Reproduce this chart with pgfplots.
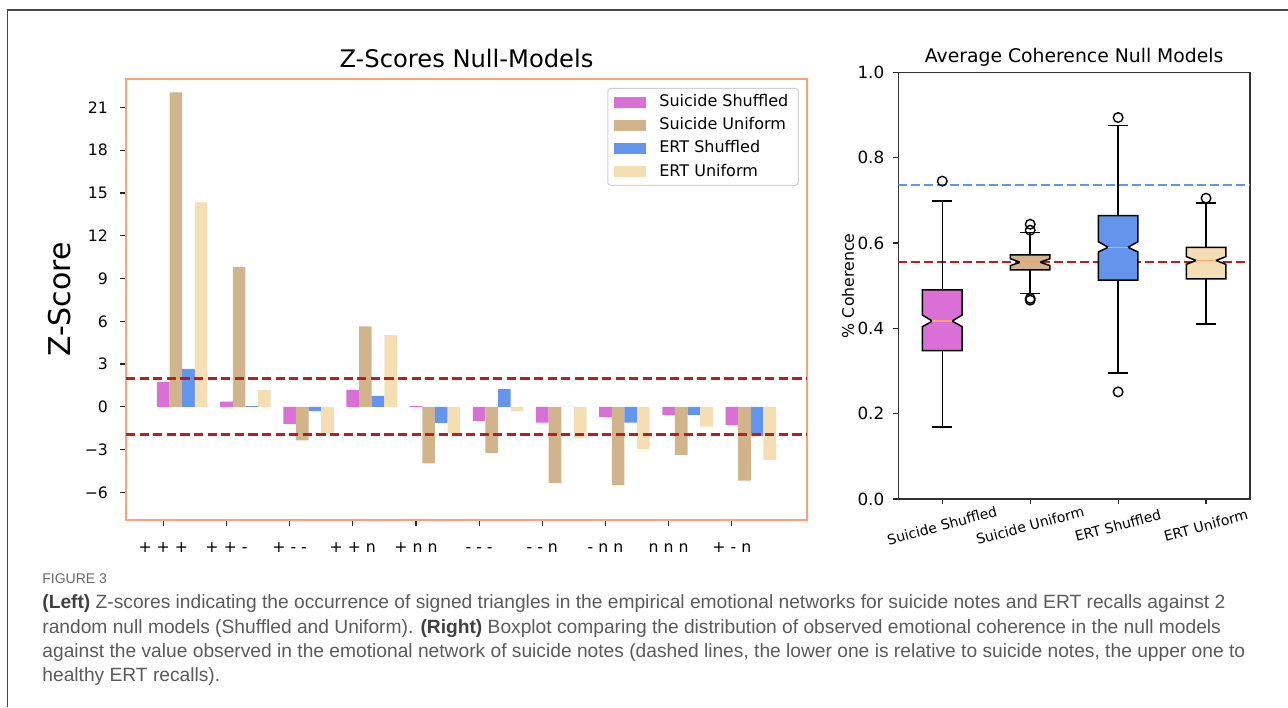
\documentclass[border=0pt]{standalone}
\usepackage{pgfplots}
\pgfplotsset{compat=1.18}
\usepackage{pgfplotstable}
\usepackage{fontspec}
\setmainfont{DejaVu Sans}
\newfontfamily\capfont{Liberation Sans}
\definecolor{orchid}{HTML}{DA70D6}
\definecolor{tanc}{HTML}{D2B48C}
\definecolor{cfblue}{HTML}{6495ED}
\definecolor{wheatc}{HTML}{F5DEB3}
\definecolor{firebrick}{HTML}{B22222}
\definecolor{salmonl}{HTML}{FFA07A}
\definecolor{medc}{HTML}{F8A36B}
\definecolor{capgray}{HTML}{5A5A5A}
\definecolor{capdark}{HTML}{404040}

\pgfplotstableread{
idx ss su es eu
0 1.75 22.07 2.67 14.35
1 0.37 9.81 0.05 1.19
2 -1.19 -2.36 -0.30 -1.85
3 1.19 5.64 0.77 5.03
4 0.05 -3.96 -1.12 -1.85
5 -0.98 -3.25 1.24 -0.30
6 -1.10 -5.36 0.00 -2.22
7 -0.70 -5.50 -1.10 -2.97
8 -0.56 -3.39 -0.56 -1.38
9 -1.26 -5.17 -2.06 -3.72
}\zdata

\begin{document}
\begin{tikzpicture}
\path[use as bounding box] (0,0) rectangle (644pt,-353.5pt);
\draw[black!72, line width=0.6pt] (3.65pt,-353.5pt) -- (3.65pt,-5pt) -- (644pt,-5pt);

% ---------------- Left: Z-scores ----------------
\begin{axis}[
  at={(63pt,-260pt)}, anchor=south west, scale only axis,
  width=340.5pt, height=220.5pt,
  xmin=-0.59, xmax=10.19, ymin=-7.94, ymax=23.0,
  axis line style={draw=salmonl, line width=1pt},
  tick style={black!85, line width=0.6pt}, tick align=outside, major tick length=3pt,
  xtick pos=bottom, ytick pos=left,
  xtick={0,...,9},
  xticklabels={+ + +, + + -, + - -, + + n, + n n, - - -, - - n, - n n, n n n, + - n},
  ytick={-6,-3,0,3,6,9,12,15,18,21},
  yticklabels={−6,−3,0,3,6,9,12,15,18,21},
  ticklabel style={font=\fontsize{7.85}{9}\selectfont},
  xticklabel style={yshift=-3.5pt, text height=0.64em},
  yticklabel style={xshift=-2.5pt},
  every axis title shift=0pt,
  title={Z-Scores Null-Models},
  title style={font=\fontsize{12.1}{14}\selectfont, at={(axis description cs:0.5,1.0476)}, anchor=center},
  ylabel={Z-Score},
  ylabel style={font=\fontsize{15}{18}\selectfont, at={(axis description cs:-0.097,0.5)}, anchor=center},
  legend style={at={(0.988,0.980)}, anchor=north east, draw=black!18, line width=0.5pt,
    rounded corners=1.5pt, fill=white, font=\fontsize{8}{9.6}\selectfont,
    inner xsep=3pt, inner ysep=1.1pt, row sep=0pt,
    /tikz/every odd column/.append style={column sep=4.5pt}},
  legend cell align=left,
  legend image code/.code={\fill[#1, sharp corners] (0pt,-2.75pt) rectangle (16.3pt,2.75pt);},
]
\addplot[ybar, bar width=0.2, bar shift=0pt, fill=orchid, draw=none] table[x=idx, y=ss]{\zdata};
\addlegendentry{Suicide Shuffled}
\addplot[ybar, bar width=0.2, bar shift=0pt, fill=tanc, draw=none] table[x expr=\thisrow{idx}+0.2, y=su]{\zdata};
\addlegendentry{Suicide Uniform}
\addplot[ybar, bar width=0.2, bar shift=0pt, fill=cfblue, draw=none] table[x expr=\thisrow{idx}+0.4, y=es]{\zdata};
\addlegendentry{ERT Shuffled}
\addplot[ybar, bar width=0.2, bar shift=0pt, fill=wheatc, draw=none] table[x expr=\thisrow{idx}+0.6, y=eu]{\zdata};
\addlegendentry{ERT Uniform}
\addplot[forget plot, firebrick, line width=1.5pt, dash pattern=on 4.6pt off 2.2pt] coordinates {(-0.59,1.96) (10.19,1.96)};
\addplot[forget plot, firebrick, line width=1.5pt, dash pattern=on 4.6pt off 2.2pt] coordinates {(-0.59,-1.96) (10.19,-1.96)};
\end{axis}

% ---------------- Right: boxplots ----------------
\begin{axis}[
  at={(449.15pt,-249.5pt)}, anchor=south west, scale only axis,
  width=175.85pt, height=213.35pt,
  xmin=0.5, xmax=4.5, ymin=0, ymax=1,
  axis line style={draw=black!80, line width=0.6pt},
  tick style={black!85, line width=0.6pt}, tick align=outside, major tick length=2.5pt,
  xtick pos=bottom, ytick pos=left,
  xtick={1,2,3,4},
  xticklabels={Suicide Shuffled, Suicide Uniform, ERT Shuffled, ERT Uniform},
  xticklabel style={font=\fontsize{7}{8}\selectfont, xshift=-1.7pt, yshift=-4.7pt, rotate=15, anchor=north},
  ytick={0,0.2,0.4,0.6,0.8,1.0},
  yticklabels={0.0,0.2,0.4,0.6,0.8,1.0},
  yticklabel style={font=\fontsize{8.4}{10}\selectfont, xshift=-1pt},
  every axis title shift=0pt,
  title={Average Coherence Null Models},
  title style={font=\fontsize{9.4}{11}\selectfont, at={(axis description cs:0.5,1.036)}, anchor=center},
  ylabel={\% Coherence},
  ylabel style={font=\fontsize{7.9}{9}\selectfont, at={(axis description cs:-0.143,0.5)}, anchor=center},
]
% reference lines (behind boxes)
\addplot[cfblue, line width=0.8pt, dash pattern=on 4.5pt off 2pt] coordinates {(0.5,0.736) (4.5,0.736)};
\addplot[firebrick, line width=0.8pt, dash pattern=on 4.5pt off 2pt] coordinates {(0.5,0.555) (4.5,0.555)};

% Suicide Shuffled (x=1)
\addplot[black, line width=0.75pt] coordinates {(1,0.348) (1,0.169)};
\addplot[black, line width=0.75pt] coordinates {(1,0.490) (1,0.698)};
\addplot[black, line width=0.75pt] coordinates {(0.8875,0.169) (1.1125,0.169)};
\addplot[black, line width=0.75pt] coordinates {(0.8875,0.698) (1.1125,0.698)};
\addplot[fill=orchid, draw=black, line width=0.75pt] coordinates {(0.775,0.348) (1.225,0.348) (1.225,0.404) (1.1125,0.417) (1.225,0.431) (1.225,0.490) (0.775,0.490) (0.775,0.431) (0.8875,0.417) (0.775,0.404)} -- cycle;
\addplot[medc, line width=0.75pt] coordinates {(0.8875,0.417) (1.1125,0.417)};
\addplot[only marks, mark=o, mark size=2.4pt, mark options={black, line width=0.7pt}] coordinates {(1,0.745)};

% Suicide Uniform (x=2)
\addplot[black, line width=0.75pt] coordinates {(2,0.537) (2,0.482)};
\addplot[black, line width=0.75pt] coordinates {(2,0.572) (2,0.625)};
\addplot[black, line width=0.75pt] coordinates {(1.8875,0.482) (2.1125,0.482)};
\addplot[black, line width=0.75pt] coordinates {(1.8875,0.625) (2.1125,0.625)};
\addplot[fill=tanc, draw=black, line width=0.75pt] coordinates {(1.775,0.537) (2.225,0.537) (2.225,0.547) (2.1125,0.555) (2.225,0.563) (2.225,0.572) (1.775,0.572) (1.775,0.563) (1.8875,0.555) (1.775,0.547)} -- cycle;
\addplot[medc, line width=0.75pt] coordinates {(1.8875,0.555) (2.1125,0.555)};
\addplot[only marks, mark=o, mark size=2.4pt, mark options={black, line width=0.7pt}] coordinates {(2,0.644) (2,0.630) (2,0.470) (2,0.466)};

% ERT Shuffled (x=3)
\addplot[black, line width=0.75pt] coordinates {(3,0.513) (3,0.295)};
\addplot[black, line width=0.75pt] coordinates {(3,0.664) (3,0.875)};
\addplot[black, line width=0.75pt] coordinates {(2.8875,0.295) (3.1125,0.295)};
\addplot[black, line width=0.75pt] coordinates {(2.8875,0.875) (3.1125,0.875)};
\addplot[fill=cfblue, draw=black, line width=0.75pt] coordinates {(2.775,0.513) (3.225,0.513) (3.225,0.579) (3.1125,0.590) (3.225,0.603) (3.225,0.664) (2.775,0.664) (2.775,0.603) (2.8875,0.590) (2.775,0.579)} -- cycle;
\addplot[medc, line width=0.75pt] coordinates {(2.8875,0.590) (3.1125,0.590)};
\addplot[only marks, mark=o, mark size=2.4pt, mark options={black, line width=0.7pt}] coordinates {(3,0.894) (3,0.251)};

% ERT Uniform (x=4)
\addplot[black, line width=0.75pt] coordinates {(4,0.516) (4,0.410)};
\addplot[black, line width=0.75pt] coordinates {(4,0.590) (4,0.694)};
\addplot[black, line width=0.75pt] coordinates {(3.8875,0.410) (4.1125,0.410)};
\addplot[black, line width=0.75pt] coordinates {(3.8875,0.694) (4.1125,0.694)};
\addplot[fill=wheatc, draw=black, line width=0.75pt] coordinates {(3.775,0.516) (4.225,0.516) (4.225,0.550) (4.1125,0.559) (4.225,0.568) (4.225,0.590) (3.775,0.590) (3.775,0.568) (3.8875,0.559) (3.775,0.550)} -- cycle;
\addplot[medc, line width=0.75pt] coordinates {(3.8875,0.559) (4.1125,0.559)};
\addplot[only marks, mark=o, mark size=2.4pt, mark options={black, line width=0.7pt}] coordinates {(4,0.705)};
\end{axis}

% ---------------- Caption ----------------
\begin{scope}[every node/.style={anchor=base west, inner sep=0pt, text=capgray, font=\capfont\fontsize{9.6}{11}\selectfont}]
\node[font=\capfont\fontsize{7}{8}\selectfont, text=black!60] at (21pt,-291.5pt) {FIGURE 3};
\node at (21pt,-304pt) {\textcolor{capdark}{\bfseries (Left)} Z-scores indicating the occurrence of signed triangles in the empirical emotional networks for suicide notes and ERT recalls against 2};
\node at (21pt,-316.5pt) {random null models (Shuffled and Uniform). \textcolor{capdark}{\bfseries (Right)} Boxplot comparing the distribution of observed emotional coherence in the null models};
\node at (21pt,-328.5pt) {against the value observed in the emotional network of suicide notes (dashed lines, the lower one is relative to suicide notes, the upper one to};
\node at (21pt,-340.5pt) {healthy ERT recalls).};
\end{scope}
\end{tikzpicture}
\end{document}
